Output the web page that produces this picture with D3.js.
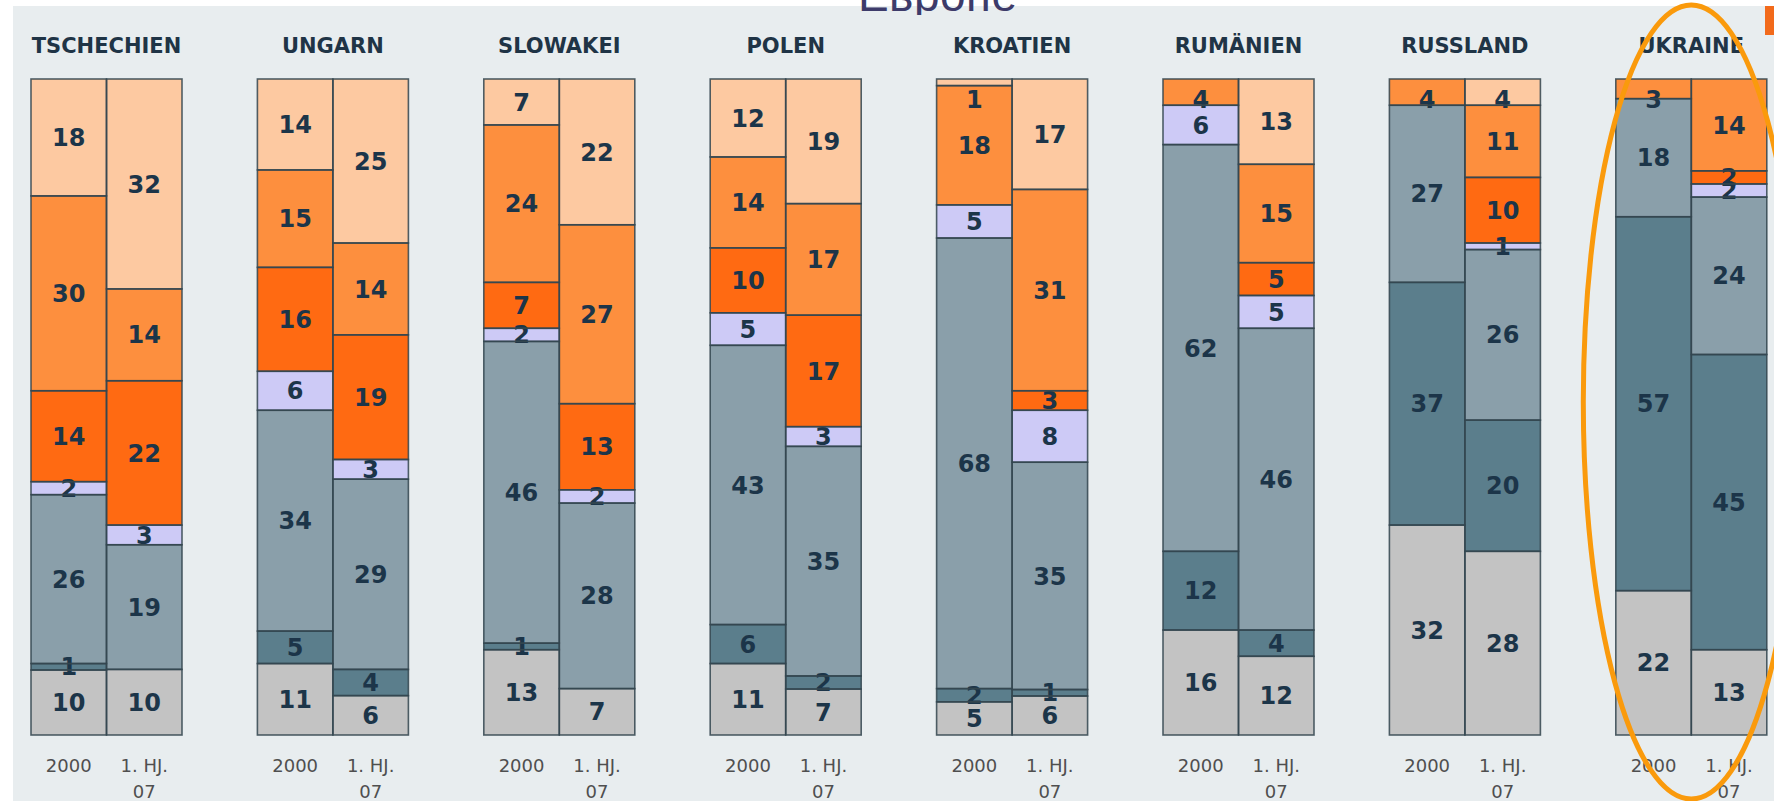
<!DOCTYPE html>
<html><head><meta charset="utf-8">
<script src="https://cdn.jsdelivr.net/npm/d3@7"></script>
<style>html,body{margin:0;padding:0;background:#fff;overflow:hidden}</style>
</head><body><svg id="c" width="1774" height="801"></svg>
<script>
// ---------- DATA ----------
const countries = ["TSCHECHIEN","UNGARN","SLOWAKEI","POLEN","KROATIEN","RUMÄNIEN","RUSSLAND","UKRAINE"];
const periods = ["2000","1. HJ. 07"];
const periodLines = [["2000"],["1. HJ.","07"]];
const seriesKeys = ["peach","medium","bright","lavender","greyblue","darkteal","grey"]; // top -> bottom
const seriesColors = ["#fdc9a1","#fd8f3e","#ff6a12","#cdcaf6","#8a9faa","#5b7e8c","#c3c3c3"];
// values per series, ordered country by country: [2000, 1. HJ. 07]
const peach    = [18,32, 14,25,  7,22, 12,19,  1,17,  0,13,  0, 4,  0, 0];
const medium   = [30,14, 15,14, 24,27, 14,17, 18,31,  4,15,  4,11,  3,14];
const bright   = [14,22, 16,19,  7,13, 10,17,  0, 3,  0, 5,  0,10,  0, 2];
const lavender = [ 2, 3,  6, 3,  2, 2,  5, 3,  5, 8,  6, 5,  0, 1,  0, 2];
const greyblue = [26,19, 34,29, 46,28, 43,35, 68,35, 62,46, 27,26, 18,24];
const darkteal = [ 1, 0,  5, 4,  1, 0,  6, 2,  2, 1, 12, 4, 37,20, 57,45];
const grey     = [10,10, 11, 6, 13, 7, 11, 7,  5, 6, 16,12, 32,28, 22,13];
const headline = "Европе";

// ---------- BUILD ----------
const seriesValues = {peach, medium, bright, lavender, greyblue, darkteal, grey};
const rows = [];
countries.forEach((c, i) => periods.forEach((p, j) => {
  const r = {country: c, period: p};
  seriesKeys.forEach(k => r[k] = seriesValues[k][i * 2 + j]);
  rows.push(r);
}));
const color = d3.scaleOrdinal().domain(seriesKeys).range(seriesColors);

const svg = d3.select("#c");
svg.append("rect").attr("x", 13).attr("y", 6).attr("width", 1774 - 13).attr("height", 801 - 6).attr("fill", "#e8edef");

const x0 = d3.scaleBand().domain(countries).range([31, 1766.8]).paddingInner(1 - 151 / 226.4).paddingOuter(0);
const x1 = d3.scaleBand().domain(periods).range([0, x0.bandwidth()]);
const y = d3.scaleLinear().domain([0, 1]).range([735, 79]);

const stack = d3.stack().keys(seriesKeys.slice().reverse()).offset(d3.stackOffsetExpand);
const series = stack(rows);

const segs = [];
series.forEach(s => s.forEach(d => {
  const v = d.data[s.key];
  if (v > 0) segs.push({key: s.key, v, y0: d[0], y1: d[1], data: d.data});
}));
const bx = d => x0(d.data.country) + x1(d.data.period);

const gFill = svg.append("g");
gFill.selectAll("rect").data(segs).join("rect")
  .attr("x", bx).attr("width", x1.bandwidth())
  .attr("y", d => y(d.y1)).attr("height", d => y(d.y0) - y(d.y1))
  .attr("fill", d => color(d.key));

const gLab = svg.append("g").attr("font-family", "DejaVu Sans, Verdana, sans-serif")
  .attr("font-weight", "bold").attr("font-size", 24).attr("fill", "#1c3549").attr("text-anchor", "middle");
gLab.selectAll("text").data(segs).join("text")
  .attr("x", d => bx(d) + x1.bandwidth() / 2)
  .attr("y", d => Math.max((y(d.y0) + y(d.y1)) / 2, y(1) + 20))
  .attr("dy", "0.36em")
  .text(d => d.v);

const gStroke = svg.append("g");
gStroke.selectAll("rect").data(segs).join("rect")
  .attr("x", bx).attr("width", x1.bandwidth())
  .attr("y", d => y(d.y1)).attr("height", d => y(d.y0) - y(d.y1))
  .attr("fill", "none").attr("stroke", "#33454f").attr("stroke-opacity", 0.85).attr("stroke-width", 1.6);

// country titles
svg.append("g").selectAll("text").data(countries).join("text")
  .attr("x", c => x0(c) + x0.bandwidth() / 2).attr("y", 53)
  .attr("text-anchor", "middle").attr("font-family", "DejaVu Sans, Verdana, sans-serif")
  .attr("font-weight", "bold").attr("font-size", 21).attr("fill", "#1f3446")
  .text(c => c);

// period labels
const pl = [];
countries.forEach(c => periods.forEach((p, j) => periodLines[j].forEach((line, k) => pl.push({c, p, line, k}))));
svg.append("g").selectAll("text").data(pl).join("text")
  .attr("x", d => x0(d.c) + x1(d.p) + x1.bandwidth() / 2)
  .attr("y", d => 772 + d.k * 26)
  .attr("text-anchor", "middle").attr("font-family", "DejaVu Sans, Verdana, sans-serif")
  .attr("font-size", 18).attr("fill", "#4f4f4f")
  .text(d => d.line);

// headline (cut off at top)
svg.append("clipPath").attr("id", "hclip").append("rect").attr("x", 0).attr("y", 0).attr("width", 1774).attr("height", 15);
svg.append("text").attr("clip-path", "url(#hclip)")
  .attr("x", 858).attr("y", 10.5).attr("font-family", "Liberation Sans, Arial, sans-serif")
  .attr("font-size", 46).attr("fill", "#3d3b6a").attr("textLength", 159)
  .text(headline);

// small orange marker top right
svg.append("rect").attr("x", 1765).attr("y", 6).attr("width", 9).attr("height", 29).attr("fill", "#f26a1b");

// highlight ellipse around the last group
const last = countries[countries.length - 1];
svg.append("ellipse")
  .attr("cx", x0(last) + x0.bandwidth() / 2).attr("cy", 402)
  .attr("rx", 108).attr("ry", 397)
  .attr("fill", "none").attr("stroke", "#fa9a0c").attr("stroke-width", 5);
</script>
</body></html>
